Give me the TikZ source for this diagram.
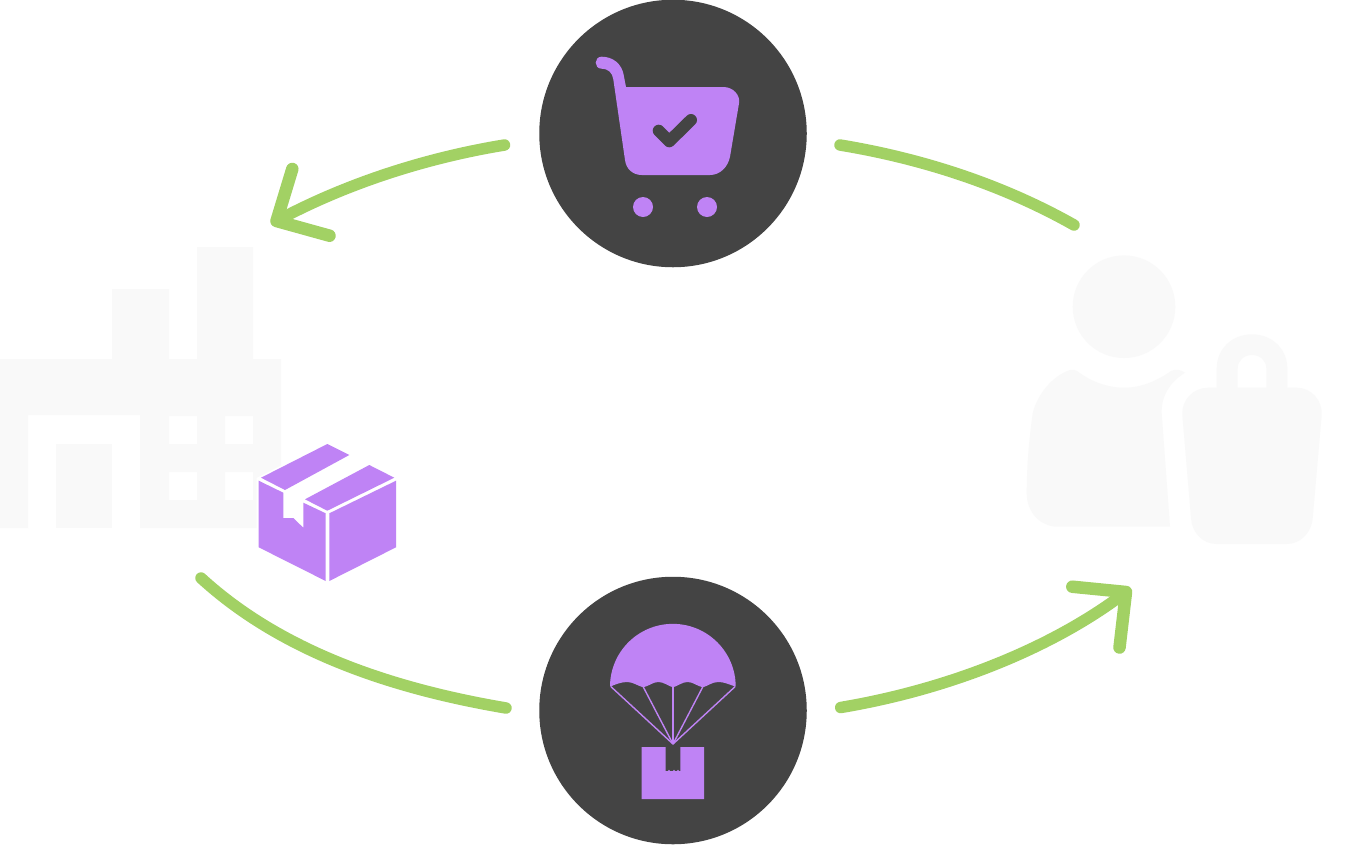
\documentclass[tikz,border=0pt]{standalone}
\definecolor{pur}{HTML}{BF83F5}
\definecolor{drk}{HTML}{444444}
\definecolor{grn}{HTML}{A2D164}
\definecolor{pale}{HTML}{F9F9F9}
\tikzset{
  hub/.style={circle,fill=drk,draw=none,minimum size=267.5pt,inner sep=0pt},
  flow/.style={draw=grn,line width=11.5pt,line cap=round,line join=round},
  barb/.style={draw=grn,line width=12.5pt,line cap=round,line join=round},
  paleshape/.style={fill=pale,draw=none},
  purshape/.style={fill=pur,draw=none},
  shroud/.style={draw=pur,line width=1.4pt}
}
\begin{document}
\begin{tikzpicture}[x=1pt,y=-1pt]
\useasboundingbox (0,0) rectangle (1348,844);
\fill[white] (0,0) rectangle (1348,844);
% factory
\fill[paleshape,even odd rule] (0,359) -- (112,359) -- (112,289) -- (169,289) -- (169,359) -- (197,359) -- (197,247) -- (253,247) -- (253,359) -- (281,359) -- (281,528) -- (140,528) -- (140,415) -- (28,415) -- (28,528) -- (0,528) -- cycle
 (169,416) rectangle (197,444) (225,416) rectangle (253,444) (169,472) rectangle (197,500) (225,472) rectangle (253,500);
\fill[paleshape] (56,444) rectangle (112,528);
% box
\fill[white] (256.5,478) -- (327.3,442) -- (398,478) -- (398,548) -- (327.5,583) -- (256.5,548) -- cycle;
\fill[purshape] (327.3,444) -- (349.3,455) -- (285,490) -- (261,477.7) -- cycle;
\fill[purshape] (369.3,465) -- (394.3,477.7) -- (327.3,510.7) -- (305,499.3) -- cycle;
\fill[purshape] (258.7,480.7) -- (283.3,492.7) -- (283.3,518) -- (293.3,518) -- (303.3,527.7) -- (303.3,502.7) -- (325.7,513.3) -- (325.7,581) -- (258.7,547.3) -- cycle;
\fill[purshape] (329.3,513.3) -- (396,480.7) -- (396,547.3) -- (329.3,581) -- cycle;
% person
\fill[paleshape] (1124,306.7) circle[radius=51.3];
\fill[paleshape] (1070,370) .. controls (1073,369.5) and (1075,370) .. (1077,371) .. controls (1090,381) and (1107,387.7) .. (1124,387.7) .. controls (1141,387.7) and (1157,381) .. (1171,371) .. controls (1176,368.5) and (1181,370) .. (1185,372.7) .. controls (1170,382) and (1161,396) .. (1161.7,413.3) -- (1170,526.7) -- (1058,526.7) .. controls (1040,526.7) and (1026.7,512) .. (1026.7,493.3) .. controls (1026.7,465) and (1029,440) .. (1032.7,413.3) .. controls (1037,395) and (1052,376) .. (1070,370) -- cycle;
% bag
\fill[paleshape,even odd rule] (1216.7,387.7) -- (1216.7,368.3) .. controls (1216.7,349) and (1232,334.3) .. (1252,334.3) .. controls (1272,334.3) and (1287.3,349) .. (1287.3,368.3) -- (1287.3,387.7) -- (1296.7,387.7) .. controls (1311,387.7) and (1322.5,400) .. (1321.7,415) -- (1312.7,518.3) .. controls (1311.5,533) and (1300,544) .. (1286.7,544) -- (1216.7,544) .. controls (1203,544) and (1192,533) .. (1191,518.3) -- (1182.3,415) .. controls (1181.5,400) and (1193,387.7) .. (1208.3,387.7) -- cycle
 (1237.7,387.7) -- (1237.7,368.3) .. controls (1237.7,360.5) and (1244,355) .. (1252,355) .. controls (1260,355) and (1266.3,360.5) .. (1266.3,368.3) -- (1266.3,387.7) -- cycle;
% hubs
\node[hub] (shop) at (673,133.5) {};
\node[hub] (drop) at (673,710.5) {};
% cart
\fill[purshape] (626,87) -- (723.3,87) .. controls (733,87) and (740.5,95) .. (739,103.3) -- (730,156.7) .. controls (728,167) and (720,175) .. (710,175) -- (641.7,175) .. controls (633,175) and (626,169) .. (625,160) -- (613.3,79.3) .. controls (612.3,72.5) and (608,68.7) .. (601.7,68.7) .. controls (593.7,68.7) and (593.7,56.7) .. (601.7,56.7) .. controls (613,56.7) and (622.5,64) .. (624,76.7) -- cycle;
\fill[purshape] (643,207) circle[radius=10] (707,207) circle[radius=10];
\draw[drk,line width=12pt,line cap=round,line join=round] (658.7,130.7) -- (669.3,141.3) -- (691,120);
% parachute
\fill[purshape] (610,686.7) arc[start angle=180,end angle=360,radius=62.85] .. controls (728,684) and (724,682) .. (718.3,682) .. controls (712,682) and (708,686) .. (702.7,687.3) .. controls (697,686) and (693,682) .. (687.7,682) .. controls (682,682) and (678,686) .. (673,687.3) .. controls (668,686) and (664,682) .. (658.3,682) .. controls (653,682) and (649,686) .. (643.3,687.3) .. controls (638,686) and (633,682) .. (627.3,682) .. controls (621,682) and (615,684.5) .. (610,686.7) -- cycle;
\coordinate (knot) at (673,744);
\coordinate (s1) at (611,686.7);\coordinate (s2) at (643.3,687);\coordinate (s3) at (673,687);\coordinate (s4) at (702.7,687);\coordinate (s5) at (735,686.7);
\foreach \s in {s1,s2,s3,s4,s5} \draw[shroud] (\s) -- (knot);
\fill[purshape] (641.7,747) -- (665.7,747) -- (665.7,771) -- (668,771) -- (669,769.7) -- (670,771) -- (673,771) -- (674,769.7) -- (675,771) -- (677,771) -- (678,769.7) -- (679,771) -- (680.3,771) -- (680.3,747) -- (704,747) -- (704,799) -- (641.7,799) -- cycle;
% connectors
\coordinate (a1) at (504.5,145);\coordinate (a2) at (276.5,221);
\coordinate (a2u) at (292.3,169);\coordinate (a2d) at (329.5,235.7);
\coordinate (b1) at (840,145);\coordinate (b2) at (1074,225);
\coordinate (c1) at (506,708);\coordinate (c2) at (201,578);
\coordinate (d1) at (840.7,707.5);\coordinate (d2) at (1126,592);
\coordinate (d2u) at (1072.3,586.7);\coordinate (d2d) at (1119.5,647.5);
\draw[flow] (a1) .. controls (425,158) and (345,184) .. (a2);
\draw[barb] (a2u) -- (a2) -- (a2d);
\draw[flow] (b1) .. controls (925,159) and (1005,186) .. (b2);
\draw[flow] (c1) .. controls (400,690) and (285,655) .. (c2);
\draw[flow] (d1) .. controls (945,690) and (1050,650) .. (d2);
\draw[barb] (d2u) -- (d2) -- (d2d);
\end{tikzpicture}
\end{document}
